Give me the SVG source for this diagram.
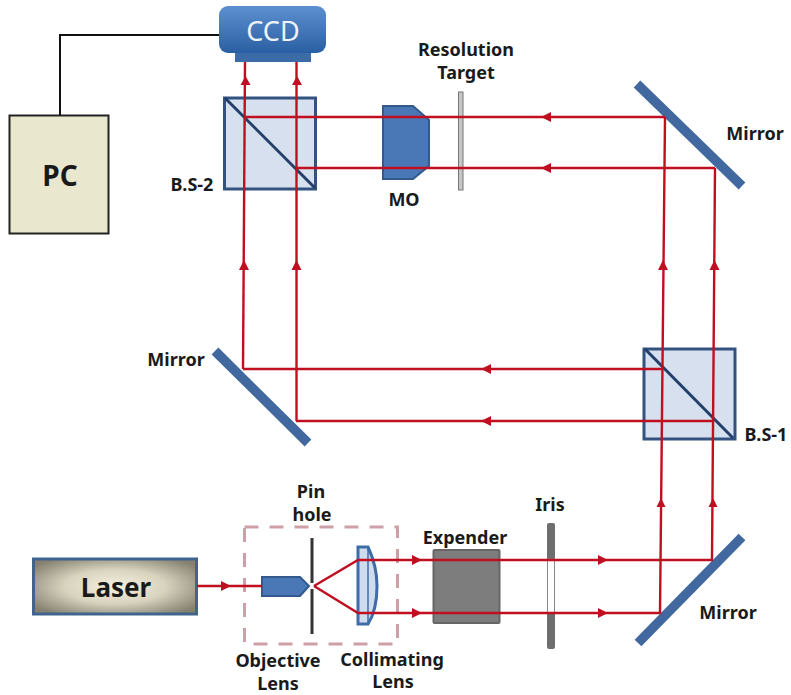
<svg xmlns="http://www.w3.org/2000/svg" width="791" height="695" viewBox="0 0 791 695">
<style>
text{font-family:"Noto Sans","Open Sans","Liberation Sans",sans-serif;font-weight:700;fill:#1a1a1a;font-size:18px;text-anchor:middle}
.mirror{stroke:#41689f;stroke-width:9.5;fill:none}
.bs{fill:#d6e0ee;stroke:#33527f;stroke-width:3}
.diag{stroke:#22406b;stroke-width:3}
.ray{stroke:#c00f20;stroke-width:2.4;fill:none}
.head{fill:#c00f20}
</style>
<defs>
<radialGradient id="laserG" cx=".5" cy=".5" r=".62"><stop offset="0" stop-color="#f5f1de"/><stop offset=".5" stop-color="#d8d3bf"/><stop offset="1" stop-color="#85806f"/></radialGradient>
<linearGradient id="ccdG" x1="0" x2="0" y1="0" y2="1"><stop offset="0" stop-color="#5d90d0"/><stop offset="1" stop-color="#2a5fa3"/></linearGradient>
</defs>
<rect width="791" height="695" fill="#fff"/>
<g id="pc"><rect x="9.500" y="115.500" width="99" height="118" fill="#e9e8cf" stroke="#222" stroke-width="2"/><text x="60" y="186" style="font-size:28px">PC</text></g>
<g id="ccd"><rect x="235" y="50" width="76" height="12" fill="#3c6ca8"/><rect x="219" y="6" width="107" height="47" rx="9" fill="url(#ccdG)"/><text x="273" y="41" style="font-size:27px;font-weight:400;fill:#eef3fa">CCD</text></g>
<g id="bs2"><rect class="bs" x="224.500" y="98" width="91" height="91"/><line class="diag" x1="225" y1="98" x2="315" y2="188"/><text x="192" y="191">B.S-2</text></g>
<g id="mo"><path d="M383 106H413L429 120V166L413 179H383Z" fill="#4a78b6" stroke="#33598d" stroke-width="2"/><text x="404" y="206">MO</text></g>
<g id="target"><rect x="458.500" y="92" width="4.500" height="98" fill="#c6c6c6" stroke="#777" stroke-width="1"/><text x="466" y="56">Resolution</text><text x="466" y="79">Target</text></g>
<g id="mirror-top"><line class="mirror" x1="637" y1="84" x2="742" y2="186"/><text x="755" y="140">Mirror</text></g>
<g id="mirror-left"><line class="mirror" x1="215" y1="351" x2="308" y2="443"/><text x="176" y="366">Mirror</text></g>
<g id="bs1"><rect class="bs" x="644" y="349" width="91" height="90"/><line class="diag" x1="645" y1="349" x2="733" y2="438"/><text x="766" y="441">B.S-1</text></g>
<g id="mirror-bottom"><line class="mirror" x1="638" y1="643" x2="742" y2="537"/><text x="728" y="619">Mirror</text></g>
<g id="laser"><rect x="33.500" y="559" width="163" height="55" fill="url(#laserG)" stroke="#41648f" stroke-width="3"/><text x="116" y="597" style="font-size:26px">Laser</text></g>
<g id="spatial-filter-box"><rect x="244.500" y="527" width="153" height="117" fill="none" stroke="#cf9fa8" stroke-width="3" stroke-dasharray="14,11"/></g>
<g id="objective-lens"><path d="M262 577H300L309 586L300 596H262Z" fill="#4a78b6" stroke="#33598d" stroke-width="2"/><text x="278" y="667">Objective</text><text x="278" y="690">Lens</text></g>
<g id="pinhole"><line x1="312" y1="538" x2="312" y2="583" stroke="#333" stroke-width="3"/><line x1="312" y1="589" x2="312" y2="634" stroke="#333" stroke-width="3"/><text x="311" y="498">Pin</text><text x="312" y="521">hole</text></g>
<g id="collimating-lens"><path d="M358 547H368Q377 566 377 586Q377 610 368 624H358Z" fill="#cfdcee" stroke="#3f6ca8" stroke-width="3"/><line x1="368" y1="547" x2="368" y2="624" stroke="#3f6ca8" stroke-width="1.500"/><text x="392" y="666">Collimating</text><text x="393" y="688">Lens</text></g>
<g id="expander"><rect x="433.500" y="550" width="66" height="73" rx="1" fill="#7d7d7d" stroke="#666" stroke-width="2"/><text x="465" y="544">Expender</text></g>
<g id="iris"><rect x="547" y="523" width="8" height="126" rx="2" fill="#6e6e6e"/><rect x="547.500" y="559" width="7" height="54" fill="#fff" stroke="#888" stroke-width="1"/><text x="550" y="511">Iris</text></g>
<g id="connectors">
<path class="ray" d="M197 586H262"/>
<path class="ray" d="M314 586L358 560H712L715 168"/>
<path class="ray" d="M314 586L358 613H660L665 117"/>
<path class="ray" d="M665 117H245"/>
<path class="ray" d="M715 168H296"/>
<path class="ray" d="M245 62L243 369"/>
<path class="ray" d="M296.500 62V421"/>
<path class="ray" d="M243 369H662"/>
<path class="ray" d="M296 421H714"/>
<g class="head">
<path d="M221 581L231 586L221 591Z"/>
<path d="M412 555L422 560L412 565Z"/>
<path d="M412 608L422 613L412 618Z"/>
<path d="M598 555L608 560L598 565Z"/>
<path d="M598 608L608 613L598 618Z"/>
<path d="M661 498L656.500 507H665.500Z"/>
<path d="M713 498L708.500 507H717.500Z"/>
<path d="M663 260L658 270H668Z"/>
<path d="M714.500 260L709.500 270H719.500Z"/>
<path d="M541 117L551 112V122Z"/>
<path d="M541 168L551 163V173Z"/>
<path d="M481 369L491 364V374Z"/>
<path d="M481 421L491 416V426Z"/>
<path d="M244 260L239 270H249Z"/>
<path d="M296.500 260L291.500 270H301.500Z"/>
<path d="M245.500 76L240.500 85H250.500Z"/>
<path d="M297 76L292 85H302Z"/>
</g>
<path d="M60 115V35H219" fill="none" stroke="#111" stroke-width="2"/>
</g>
</svg>
